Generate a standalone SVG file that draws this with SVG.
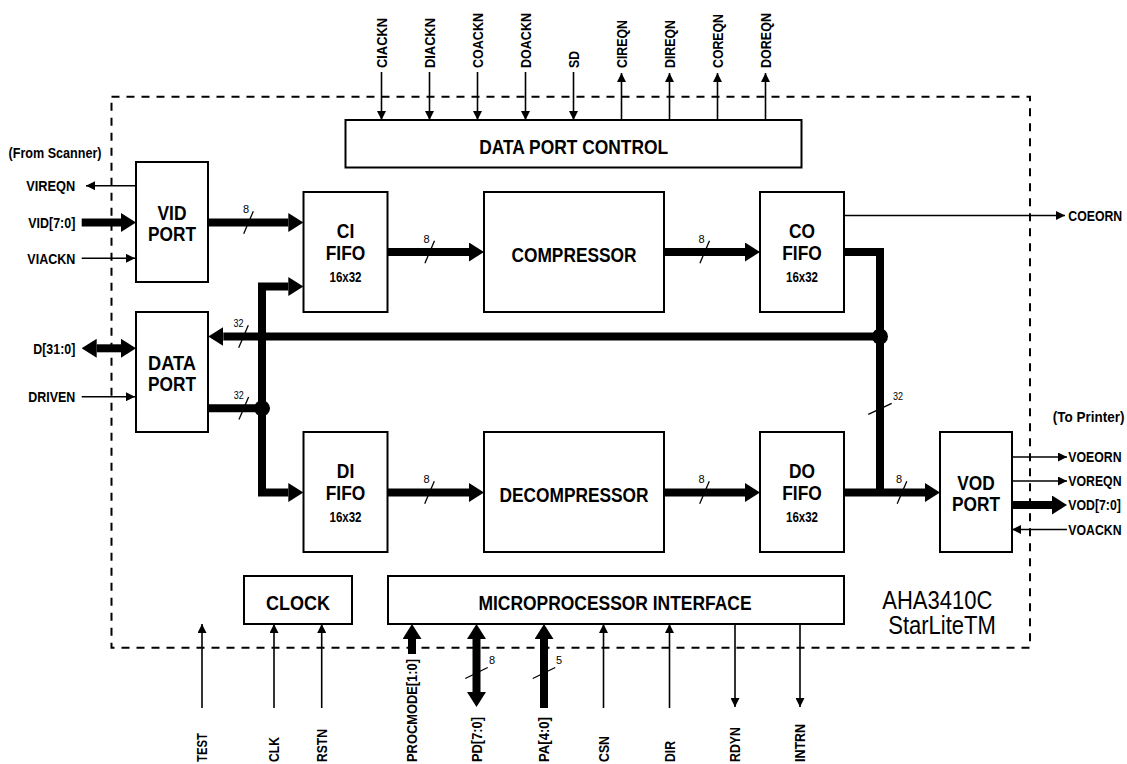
<svg xmlns="http://www.w3.org/2000/svg" width="1127" height="764" viewBox="0 0 1127 764">
<style>
text{font-family:'Liberation Sans Narrow','Liberation Sans',Arial,sans-serif;fill:#000}
.blk{font-size:21px;font-weight:bold;text-anchor:middle}
.sz{font-size:14.5px;font-weight:bold;text-anchor:middle}
.sig{font-size:15px;font-weight:bold}
.end{text-anchor:end}
.bw{font-size:11px}
.big{font-size:25px}
.box{fill:#fff;stroke:#000;stroke-width:2}
.thin{fill:none;stroke:#000;stroke-width:1.6}
.thick{fill:none;stroke:#000;stroke-width:8;stroke-linejoin:miter}
.sl{stroke:#000;stroke-width:1.3}
.ta{marker-end:url(#ah)}
.tk{marker-end:url(#ahk)}
</style>
<defs>
<marker id="ah" markerUnits="userSpaceOnUse" markerWidth="9" markerHeight="9" refX="9" refY="4.5" orient="auto"><path d="M0,0 L9,4.5 L0,9 z" fill="#000"/></marker>
<marker id="ahk" markerUnits="userSpaceOnUse" markerWidth="15" markerHeight="19" refX="0" refY="9.5" orient="auto-start-reverse"><path d="M0,0 L15,9.5 L0,19 z" fill="#000"/></marker>
</defs>
<rect x="0" y="0" width="1127" height="764" fill="#fff"/>
<rect id="chip-boundary" x="111.5" y="96.7" width="918.5" height="551" fill="none" stroke="#000" stroke-width="2" stroke-dasharray="8 7"/>

<g id="connectors">
<path class="thin ta" d="M381.5,72 V120"/>
<path class="thin ta" d="M429.5,72 V120"/>
<path class="thin ta" d="M477.5,72 V120"/>
<path class="thin ta" d="M525.5,72 V120"/>
<path class="thin ta" d="M573.5,72 V120"/>
<path class="thin ta" d="M621.5,120 V73"/>
<path class="thin ta" d="M669.5,120 V73"/>
<path class="thin ta" d="M717.5,120 V73"/>
<path class="thin ta" d="M765.5,120 V73"/>
<path class="thin ta" d="M136,185.7 H86"/>
<path class="thick tk" d="M81.7,222.5 H121"/>
<path class="thin ta" d="M81.7,258.3 H135"/>
<path class="thick tk" d="M96.7,348.3 H121" marker-start="url(#ahk)"/>
<path class="thin ta" d="M81.7,396.7 H135"/>
<path class="thick tk" d="M208,222.5 H288.3"/>
<path class="thick tk" d="M388,252 H469"/>
<path class="thick tk" d="M664,252 H745"/>
<path class="thick" d="M844,252 H880 V492.5"/>
<path class="thick tk" d="M880,336.5 H223.3"/>
<path class="thick" d="M208,408.3 H262"/>
<path class="thick tk" d="M262,408.3 V286.5 H288.3"/>
<path class="thick tk" d="M262,408.3 V492.5 H288.3"/>
<path class="thick tk" d="M388,492.5 H469"/>
<path class="thick tk" d="M664,492.5 H745"/>
<path class="thick tk" d="M844,492.5 H925"/>
<circle cx="262" cy="408.3" r="8" fill="#000"/>
<circle cx="880" cy="336.5" r="8" fill="#000"/>
<path class="thin ta" d="M844,215.5 H1065"/>
<path class="thin ta" d="M1012,457 H1067"/>
<path class="thin ta" d="M1012,481 H1067"/>
<path class="thick tk" d="M1012,505 H1052"/>
<path class="thin ta" d="M1067,529.5 H1012"/>
<path class="thin ta" d="M202,708 V624"/>
<path class="thin ta" d="M274,708 V624"/>
<path class="thin ta" d="M321.7,708 V624"/>
<path class="thick tk" d="M412,654 V639"/>
<path class="thick tk" d="M476.5,692 V639" marker-start="url(#ahk)"/>
<path class="thick tk" d="M544,708 V639"/>
<path class="thin ta" d="M603.5,708 V624"/>
<path class="thin ta" d="M669.5,708 V624"/>
<path class="thin ta" d="M735,624 V707"/>
<path class="thin ta" d="M800,624 V707"/>
<line class="sl" x1="253.3" y1="211.2" x2="243.7" y2="233.8"/>
<text class="bw end" x="249" y="212.7">8</text>
<line class="sl" x1="434.5" y1="240.7" x2="424.9" y2="263.3"/>
<text class="bw end" x="429.5" y="242.5">8</text>
<line class="sl" x1="709.5" y1="240.7" x2="699.9" y2="263.3"/>
<text class="bw end" x="704.5" y="242.5">8</text>
<line class="sl" x1="248.3" y1="325.2" x2="238.7" y2="347.8"/>
<text class="bw end" x="243.5" y="327" textLength="10" lengthAdjust="spacingAndGlyphs">32</text>
<line class="sl" x1="248.6" y1="397" x2="239" y2="419.6"/>
<text class="bw end" x="243.8" y="399.3" textLength="10" lengthAdjust="spacingAndGlyphs">32</text>
<line class="sl" x1="868.3" y1="414.3" x2="891.7" y2="403.3"/>
<text class="bw" x="893" y="400" textLength="10" lengthAdjust="spacingAndGlyphs">32</text>
<line class="sl" x1="434.3" y1="481.2" x2="424.7" y2="503.8"/>
<text class="bw end" x="429.5" y="483">8</text>
<line class="sl" x1="709.3" y1="481.2" x2="699.7" y2="503.8"/>
<text class="bw end" x="704.5" y="483">8</text>
<line class="sl" x1="906.8" y1="481.2" x2="897.2" y2="503.8"/>
<text class="bw end" x="902" y="483">8</text>
<line class="sl" x1="465.3" y1="678.5" x2="487.7" y2="667.5"/>
<text class="bw" x="489" y="664">8</text>
<line class="sl" x1="532.8" y1="678.5" x2="555.2" y2="667.5"/>
<text class="bw" x="556" y="664">5</text>
</g>

<g id="data-port-control"><rect class="box" x="345.5" y="120" width="456" height="47.5"/><text class="blk" x="573.7" y="154" textLength="189" lengthAdjust="spacingAndGlyphs">DATA PORT CONTROL</text></g>
<g id="vid-port"><rect class="box" x="136" y="162" width="72" height="120"/><text class="blk" x="172" y="220" textLength="29" lengthAdjust="spacingAndGlyphs">VID</text><text class="blk" x="172" y="241" textLength="48" lengthAdjust="spacingAndGlyphs">PORT</text></g>
<g id="data-port"><rect class="box" x="136" y="312" width="72" height="120"/><text class="blk" x="172" y="369.5" textLength="48" lengthAdjust="spacingAndGlyphs">DATA</text><text class="blk" x="172" y="390.5" textLength="48" lengthAdjust="spacingAndGlyphs">PORT</text></g>
<g id="ci-fifo"><rect class="box" x="303.5" y="192" width="84" height="120"/><text class="blk" x="345.5" y="238.3" textLength="17.5" lengthAdjust="spacingAndGlyphs">CI</text><text class="blk" x="345.5" y="259.5" textLength="39.5" lengthAdjust="spacingAndGlyphs">FIFO</text><text class="sz" x="345.5" y="281.7" textLength="32" lengthAdjust="spacingAndGlyphs">16x32</text></g>
<g id="compressor"><rect class="box" x="484" y="192" width="180" height="120"/><text class="blk" x="574" y="261.7" textLength="125" lengthAdjust="spacingAndGlyphs">COMPRESSOR</text></g>
<g id="co-fifo"><rect class="box" x="760" y="192" width="84" height="120"/><text class="blk" x="802" y="238.3" textLength="26" lengthAdjust="spacingAndGlyphs">CO</text><text class="blk" x="802" y="259.5" textLength="39.5" lengthAdjust="spacingAndGlyphs">FIFO</text><text class="sz" x="802" y="281.7" textLength="32" lengthAdjust="spacingAndGlyphs">16x32</text></g>
<g id="di-fifo"><rect class="box" x="303.5" y="432" width="84" height="120"/><text class="blk" x="345.5" y="478.3" textLength="17.5" lengthAdjust="spacingAndGlyphs">DI</text><text class="blk" x="345.5" y="499.5" textLength="39.5" lengthAdjust="spacingAndGlyphs">FIFO</text><text class="sz" x="345.5" y="521.7" textLength="32" lengthAdjust="spacingAndGlyphs">16x32</text></g>
<g id="decompressor"><rect class="box" x="484" y="432" width="180" height="120"/><text class="blk" x="574" y="501.7" textLength="149" lengthAdjust="spacingAndGlyphs">DECOMPRESSOR</text></g>
<g id="do-fifo"><rect class="box" x="760" y="432" width="84" height="120"/><text class="blk" x="802" y="478.3" textLength="26" lengthAdjust="spacingAndGlyphs">DO</text><text class="blk" x="802" y="499.5" textLength="39.5" lengthAdjust="spacingAndGlyphs">FIFO</text><text class="sz" x="802" y="521.7" textLength="32" lengthAdjust="spacingAndGlyphs">16x32</text></g>
<g id="vod-port"><rect class="box" x="940" y="432" width="72" height="120"/><text class="blk" x="976" y="490" textLength="37.5" lengthAdjust="spacingAndGlyphs">VOD</text><text class="blk" x="976" y="511" textLength="48" lengthAdjust="spacingAndGlyphs">PORT</text></g>
<g id="clock"><rect class="box" x="244" y="576" width="108" height="48"/><text class="blk" x="298" y="610" textLength="64" lengthAdjust="spacingAndGlyphs">CLOCK</text></g>
<g id="microprocessor-interface"><rect class="box" x="388" y="576" width="456" height="48"/><text class="blk" x="615" y="610" textLength="273" lengthAdjust="spacingAndGlyphs">MICROPROCESSOR INTERFACE</text></g>

<g id="labels">
<text class="sig" x="8.5" y="158.3" textLength="93" lengthAdjust="spacingAndGlyphs">(From Scanner)</text>
<text class="sig end" x="75.3" y="191" textLength="49" lengthAdjust="spacingAndGlyphs">VIREQN</text>
<text class="sig end" x="75.3" y="228" textLength="47" lengthAdjust="spacingAndGlyphs">VID[7:0]</text>
<text class="sig end" x="75.3" y="263.6" textLength="48" lengthAdjust="spacingAndGlyphs">VIACKN</text>
<text class="sig end" x="75.3" y="353.6" textLength="42" lengthAdjust="spacingAndGlyphs">D[31:0]</text>
<text class="sig end" x="75.3" y="402" textLength="47" lengthAdjust="spacingAndGlyphs">DRIVEN</text>
<text class="sig" transform="translate(1068.3,221) scale(0.82,1)">COEORN</text>
<text class="sig end" transform="translate(1124.5,421.7) scale(0.9,1)">(To Printer)</text>
<text class="sig" transform="translate(1068.3,462.3) scale(0.82,1)">VOEORN</text>
<text class="sig" transform="translate(1068.3,486.3) scale(0.82,1)">VOREQN</text>
<text class="sig" transform="translate(1068.3,510.3) scale(0.82,1)">VOD[7:0]</text>
<text class="sig" transform="translate(1068.3,534.8) scale(0.82,1)">VOACKN</text>
<text class="big" transform="translate(882.3,609) scale(0.88,1)">AHA3410C</text>
<text class="big" transform="translate(888.3,634) scale(0.88,1)">StarLiteTM</text>
<text class="sig" transform="translate(386.8,68) rotate(-90)" textLength="50" lengthAdjust="spacingAndGlyphs">CIACKN</text>
<text class="sig" transform="translate(434.8,68) rotate(-90)" textLength="50" lengthAdjust="spacingAndGlyphs">DIACKN</text>
<text class="sig" transform="translate(482.8,68) rotate(-90)" textLength="55" lengthAdjust="spacingAndGlyphs">COACKN</text>
<text class="sig" transform="translate(530.8,68) rotate(-90)" textLength="55" lengthAdjust="spacingAndGlyphs">DOACKN</text>
<text class="sig" transform="translate(578.8,68) rotate(-90)" textLength="17" lengthAdjust="spacingAndGlyphs">SD</text>
<text class="sig" transform="translate(626.8,68) rotate(-90)" textLength="48" lengthAdjust="spacingAndGlyphs">CIREQN</text>
<text class="sig" transform="translate(674.8,68) rotate(-90)" textLength="48" lengthAdjust="spacingAndGlyphs">DIREQN</text>
<text class="sig" transform="translate(722.8,68) rotate(-90)" textLength="54" lengthAdjust="spacingAndGlyphs">COREQN</text>
<text class="sig" transform="translate(770.8,68) rotate(-90)" textLength="55" lengthAdjust="spacingAndGlyphs">DOREQN</text>
<text class="sig" transform="translate(207.3,762) rotate(-90)" textLength="29" lengthAdjust="spacingAndGlyphs">TEST</text>
<text class="sig" transform="translate(279.3,762) rotate(-90)" textLength="25" lengthAdjust="spacingAndGlyphs">CLK</text>
<text class="sig" transform="translate(327,762) rotate(-90)" textLength="33" lengthAdjust="spacingAndGlyphs">RSTN</text>
<text class="sig" transform="translate(417.3,762) rotate(-90)" textLength="103" lengthAdjust="spacingAndGlyphs">PROCMODE[1:0]</text>
<text class="sig" transform="translate(481.8,762) rotate(-90)" textLength="45" lengthAdjust="spacingAndGlyphs">PD[7:0]</text>
<text class="sig" transform="translate(549.3,762) rotate(-90)" textLength="45" lengthAdjust="spacingAndGlyphs">PA[4:0]</text>
<text class="sig" transform="translate(608.8,762) rotate(-90)" textLength="26" lengthAdjust="spacingAndGlyphs">CSN</text>
<text class="sig" transform="translate(674.8,762) rotate(-90)" textLength="21" lengthAdjust="spacingAndGlyphs">DIR</text>
<text class="sig" transform="translate(740.3,762) rotate(-90)" textLength="35" lengthAdjust="spacingAndGlyphs">RDYN</text>
<text class="sig" transform="translate(805.3,762) rotate(-90)" textLength="38" lengthAdjust="spacingAndGlyphs">INTRN</text>
</g>
</svg>
